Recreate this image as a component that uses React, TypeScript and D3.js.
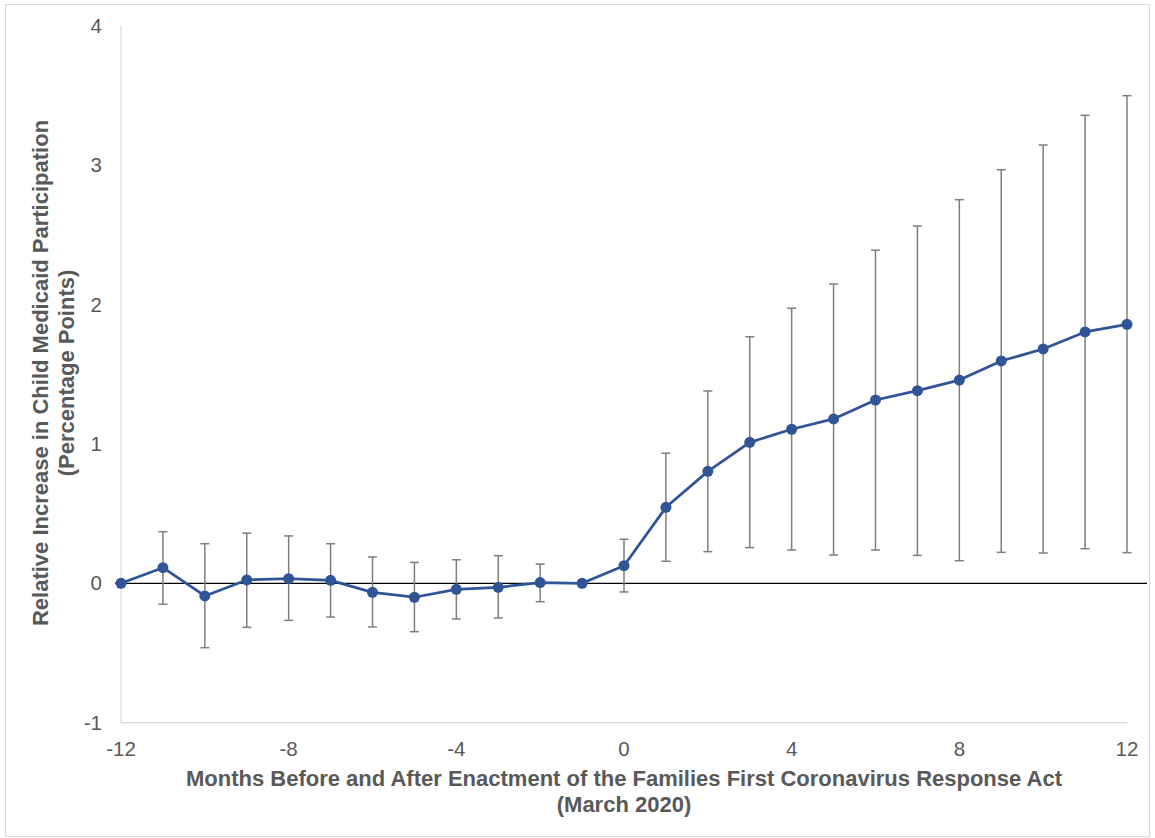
import React from "react";
import * as d3 from "d3";

const months = [-12, -11, -10, -9, -8, -7, -6, -5, -4, -3, -2, -1, 0, 1, 2, 3, 4, 5, 6, 7, 8, 9, 10, 11, 12];
const estimates = [0, 0.112, -0.091, 0.024, 0.033, 0.021, -0.065, -0.1, -0.043, -0.029, 0.005, 0, 0.126, 0.545, 0.803, 1.011, 1.105, 1.179, 1.315, 1.382, 1.458, 1.595, 1.681, 1.803, 1.858];
const upper = [null, 0.37, 0.284, 0.36, 0.34, 0.284, 0.189, 0.15, 0.169, 0.198, 0.138, null, 0.316, 0.933, 1.38, 1.769, 1.973, 2.147, 2.39, 2.563, 2.752, 2.967, 3.144, 3.357, 3.498];
const lower = [null, -0.15, -0.462, -0.316, -0.266, -0.242, -0.313, -0.347, -0.256, -0.249, -0.132, null, -0.062, 0.158, 0.227, 0.256, 0.239, 0.203, 0.239, 0.2, 0.162, 0.222, 0.217, 0.248, 0.22];
const xTicks = [-12, -8, -4, 0, 4, 8, 12];
const yTicks = [-1, 0, 1, 2, 3, 4];
const xTitle = ["Months Before and After Enactment of the Families First Coronavirus Response Act", "(March 2020)"];
const yTitle = ["Relative Increase in Child Medicaid Participation", "(Percentage Points)"];

export default function App() {
  const W = 1155, H = 838;
  const x = d3.scaleLinear().domain([-12, 12]).range([121, 1127]);
  const y = d3.scaleLinear().domain([-1, 4]).range([722.7, 25.7]);
  const line = d3.line<number>().x((_, i) => x(months[i])).y((d) => y(d));
  const font = "Liberation Sans, Arial, sans-serif";
  const txt = "#595959";
  return (
    <svg width={W} height={H} style={{ position: "absolute", left: 0, top: 0 }}>
      <rect x={0} y={0} width={W} height={H} fill="#fff" />
      <rect x={5.5} y={4.5} width={1144} height={832} fill="none" stroke="#d9d9d9" strokeWidth={1} />
      {/* axes */}
      <line x1={x(-12)} x2={x(-12)} y1={y(4)} y2={y(-1)} stroke="#d9d9d9" strokeWidth={1.2} />
      <line x1={x(-12)} x2={x(12)} y1={y(-1)} y2={y(-1)} stroke="#d9d9d9" strokeWidth={1.2} />
      <line x1={x(-12) - 6} x2={x(12) + 20} y1={y(0)} y2={y(0)} stroke="#000" strokeWidth={1.2} />
      {yTicks.map((t) => (
        <text key={t} x={102} y={y(t)} dy="0.35em" textAnchor="end" fontFamily={font} fontSize={20.5} fill={txt}>{t}</text>
      ))}
      {xTicks.map((t) => (
        <text key={t} x={x(t)} y={749} dy="0.35em" textAnchor="middle" fontFamily={font} fontSize={20.5} fill={txt}>{t}</text>
      ))}
      {/* error bars */}
      {months.map((m, i) =>
        upper[i] == null ? null : (
          <g key={m} stroke="#7f7f7f" strokeWidth={1.5}>
            <line x1={x(m)} x2={x(m)} y1={y(upper[i] as number)} y2={y(lower[i] as number)} />
            <line x1={x(m) - 4.5} x2={x(m) + 4.5} y1={y(upper[i] as number)} y2={y(upper[i] as number)} />
            <line x1={x(m) - 4.5} x2={x(m) + 4.5} y1={y(lower[i] as number)} y2={y(lower[i] as number)} />
          </g>
        )
      )}
      <path d={line(estimates) || ""} fill="none" stroke="#2F5597" strokeWidth={2.75} strokeLinejoin="round" />
      {months.map((m, i) => (
        <circle key={m} cx={x(m)} cy={y(estimates[i])} r={5.5} fill="#2F5597" />
      ))}
      {/* titles */}
      <text x={624} y={786} textAnchor="middle" fontFamily={font} fontSize={22} fontWeight="bold" fill={txt}>{xTitle[0]}</text>
      <text x={624} y={812} textAnchor="middle" fontFamily={font} fontSize={22} fontWeight="bold" fill={txt}>{xTitle[1]}</text>
      <g transform="translate(48,373) rotate(-90)">
        <text x={0} y={0} textAnchor="middle" fontFamily={font} fontSize={22} fontWeight="bold" fill={txt}>{yTitle[0]}</text>
        <text x={0} y={25.5} textAnchor="middle" fontFamily={font} fontSize={22} fontWeight="bold" fill={txt}>{yTitle[1]}</text>
      </g>
    </svg>
  );
}
